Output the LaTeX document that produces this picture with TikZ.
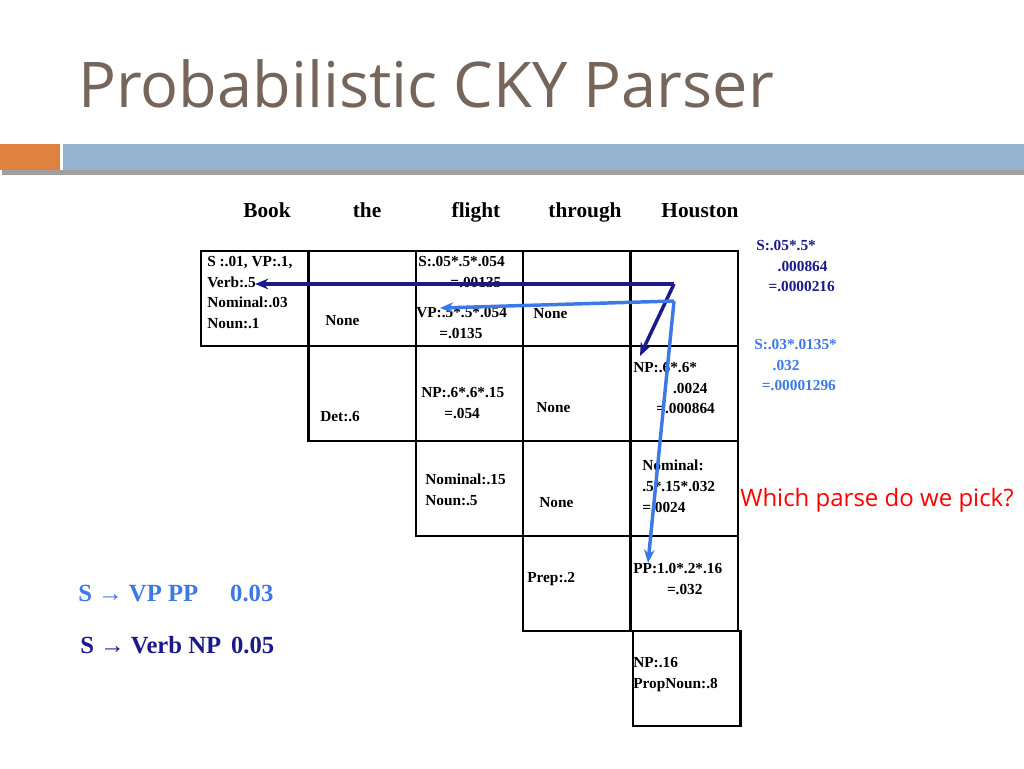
\documentclass[tikz,border=0pt]{standalone}
\usepackage{fontspec}
\setmainfont{Liberation Serif}
\newfontfamily\titlefont{Open Sans}
\usetikzlibrary{arrows.meta}
\definecolor{titlegray}{HTML}{76655A}
\definecolor{barblue}{HTML}{93B3D0}
\definecolor{barorange}{HTML}{E0823F}
\definecolor{deepblue}{HTML}{1A1A8C}
\definecolor{lightblue}{HTML}{3C78E6}
\begin{document}
\begin{tikzpicture}[x=0.75pt,y=-0.75pt,
    cell/.style={draw, line width=1.8pt, minimum width=80.5pt, minimum height=71pt, inner sep=0pt, anchor=north west},
    entry/.style={anchor=north west, align=left, font=\bfseries\fontsize{11.5}{15.5}\selectfont, inner sep=0pt},
    word/.style={font=\bfseries\fontsize{16}{18}\selectfont},
    back/.style={-{Stealth[length=10pt,width=8pt]}, line width=2.6pt}]
  \useasboundingbox (0,0) rectangle (1024,768);
  \node[anchor=base west, text=titlegray, font=\titlefont\fontsize{47.3}{52}\selectfont, inner sep=0pt] (title) at (78,107) {Probabilistic CKY Parser};
  \fill[gray!75] (2,170) rectangle (1024,175);
  \fill[barorange] (0,144) rectangle (60,170);
  \fill[barblue] (63,144) rectangle (1024,170);
  % words
  \foreach \w/\x in {Book/267, the/367, flight/476, through/585, Houston/700}
    \node[word, anchor=base] (w\w) at (\x,217) {\w};
  % chart cells
  \foreach \i in {0,...,3}
    \foreach \j in {\i,...,4}
      \node[cell] (c\i\j) at (200+107.3*\j, 250+95*\i) {};
  \node[cell] (c44) at (632,630) {};
  % entries
  \node[entry] (e00) at (207,256) {S :.01, VP:.1,\\Verb:.5\\Nominal:.03\\Noun:.1};
  \node[entry] (e01) at (325,315) {None};
  \node[entry] (e02) at (418,256) {S:.05*.5*.054\\\hspace*{2.1em}=.00135};
  \node[entry] (e02b) at (416,307) {VP:.5*.5*.054\\\hspace*{1.5em}=.0135};
  \node[entry] (e03) at (533,308) {None};
  \node[entry] (e11) at (320,411) {Det:.6};
  \node[entry] (e12) at (421,387) {NP:.6*.6*.15\\\hspace*{1.5em}=.054};
  \node[entry] (e13) at (536,402) {None};
  \node[entry] (e14) at (633,362) {NP:.6*.6*\\\hspace*{2.6em}.0024\\\hspace*{1.5em}=.000864};
  \node[entry] (e22) at (425,474) {Nominal:.15\\Noun:.5};
  \node[entry] (e23) at (539,497) {None};
  \node[entry] (e24) at (642,460) {Nominal:\\.5*.15*.032\\=.0024};
  \node[entry] (e33) at (527,572) {Prep:.2};
  \node[entry] (e34) at (633,563) {PP:1.0*.2*.16\\\hspace*{2.2em}=.032};
  \node[entry] (e44) at (633,657) {NP:.16\\PropNoun:.8};
  % side notes
  \node[entry, text=deepblue, align=left] (n1) at (756,240) {S:.05*.5*\\\hspace*{1.4em}.000864\\\hspace*{0.8em}=.0000216};
  \node[entry, text=lightblue, align=left] (n2) at (754,339) {S:.03*.0135*\\\hspace*{1.2em}.032\\\hspace*{0.5em}=.00001296};
  \node[anchor=west, text=red, font=\titlefont\fontsize{18}{20}\selectfont, inner sep=0pt] (ask) at (740,500) {Which parse do we pick?};
  \node[anchor=base west, text=lightblue, font=\bfseries\fontsize{18.5}{22}\selectfont, inner sep=0pt] (r1) at (78,601) {S → VP PP\hspace{1.3em}0.03};
  \node[anchor=base west, text=deepblue, font=\bfseries\fontsize{18.5}{22}\selectfont, inner sep=0pt] (r2) at (80,653) {S → Verb NP\hspace{0.4em}0.05};
  % back pointers
  \coordinate (k1) at (674,284);
  \coordinate (k2) at (674,301);
  \coordinate (t1) at (255,284);
  \coordinate (t2) at (640,356);
  \coordinate (t3) at (440,308);
  \coordinate (t4) at (648,563);
  \draw[back, deepblue] (k1) -- (t1);
  \draw[back, deepblue] (k1) -- (t2);
  \draw[back, lightblue] (k2) -- (t3);
  \draw[back, lightblue] (k2) -- (t4);
\end{tikzpicture}
\end{document}
